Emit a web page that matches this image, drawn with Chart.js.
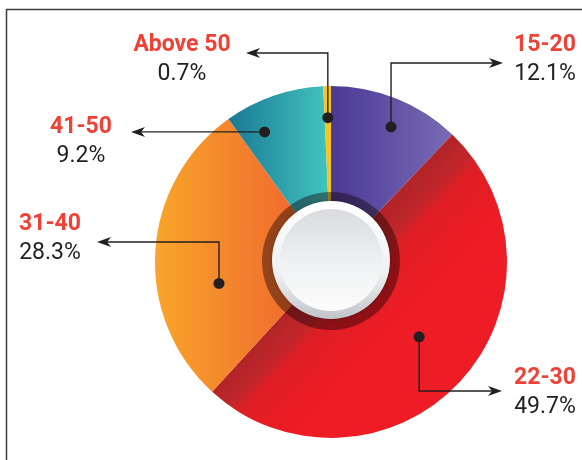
<!DOCTYPE html>
<html>
<head>
<meta charset="utf-8">
<script src="https://cdn.jsdelivr.net/npm/chart.js@4.4.1/dist/chart.umd.min.js"></script>
<style>
  html, body { margin: 0; padding: 0; background: #fff; }
  #wrap { width: 582px; height: 460px; position: relative; }
</style>
</head>
<body>
<div id="wrap"><canvas id="ageChart" width="582" height="460"></canvas></div>
<script>
// data
var ageGroups = ['15-20', '22-30', '31-40', '41-50', 'Above 50'];
var shares = [12.1, 49.7, 28.3, 9.2, 0.7];
var shareLabels = ['12.1%', '49.7%', '28.3%', '9.2%', '0.7%'];

// slice colours (gradient start / end)
var sliceFrom = ['#4a3a95', '#b32428', '#f8a52a', '#1a7a94', '#f7c51c'];
var sliceTo   = ['#7b6db6', '#ed1c24', '#f06a2e', '#41c2bf', '#f7c51c'];

// callouts: where the dot sits in the slice, elbow / arrow tip, text centre
var callouts = [
  { frac: 0.55, r: 0.84, elbowY: 63,  tipX: 503, tx: 545, ty: 45 },
  { frac: 0.485, r: 0.657, elbowY: 391, tipX: 502, tx: 545, ty: 378 },
  { frac: 0.36, r: 0.648, elbowY: 242, tipX: 97,  tx: 50,  ty: 224 },
  { frac: 0.26, r: 0.83, elbowY: null, tipX: 131, tx: 81,  ty: 127 },
  { frac: 0.5,  r: 0.82, elbowY: 53,  tipX: 246, tx: 182, ty: 45 }
];

var ink = '#231f20';
var labelRed = '#ef4136';

function sliceFill(context) {
  var chart = context.chart;
  var area = chart.chartArea;
  var i = context.dataIndex;
  if (!area) return sliceTo[i];
  var g = chart.ctx;
  var cx = (area.left + area.right) / 2;
  var cy = (area.top + area.bottom) / 2;
  var R = Math.min(area.right - area.left, area.bottom - area.top) / 2;
  var grad;
  if (i === 1) {
    // shading band along the diagonal seam
    var a = (shares[0] / 100) * 2 * Math.PI;
    var dx = Math.cos(a), dy = Math.sin(a);
    grad = g.createLinearGradient(cx, cy, cx + dx * 90, cy + dy * 90);
    grad.addColorStop(0, '#b02427');
    grad.addColorStop(0.3, '#c2262a');
    grad.addColorStop(0.42, '#df1e25');
    grad.addColorStop(1, '#ee1c24');
    return grad;
  }
  if (i === 0) grad = g.createLinearGradient(cx, 0, cx + R * 0.72, 0);
  else if (i === 2) grad = g.createLinearGradient(cx - R, 0, cx - R * 0.2, 0);
  else if (i === 3) grad = g.createLinearGradient(cx - R * 0.58, 0, cx - 4, 0);
  else return sliceTo[i];
  grad.addColorStop(0, sliceFrom[i]);
  grad.addColorStop(1, sliceTo[i]);
  return grad;
}

function arrowHead(g, x, y, dir) {
  g.beginPath();
  g.moveTo(x, y);
  g.lineTo(x - dir * 14, y - 5);
  g.lineTo(x - dir * 10, y);
  g.lineTo(x - dir * 14, y + 5);
  g.closePath();
  g.fill();
}

var framePlugin = {
  id: 'frame',
  beforeDraw: function(chart) {
    var g = chart.ctx;
    g.save();
    g.strokeStyle = '#3c3c3c';
    g.lineWidth = 1.5;
    g.beginPath();
    g.moveTo(6.5, 460);
    g.lineTo(6.5, 9.5);
    g.lineTo(582, 9.5);
    g.stroke();
    g.restore();
  }
};

var hubPlugin = {
  id: 'hub',
  afterDatasetsDraw: function(chart) {
    var g = chart.ctx;
    var arc = chart.getDatasetMeta(0).data[0];
    var cx = arc.x, cy = arc.y;
    g.save();
    // dark translucent ring
    g.beginPath();
    g.arc(cx, cy - 1, 69, 0, Math.PI * 2);
    g.fillStyle = 'rgba(20,0,0,0.42)';
    g.fill();
    // button rim
    g.shadowColor = 'rgba(0,0,0,0.3)';
    g.shadowBlur = 3;
    var rim = g.createLinearGradient(0, cy - 60, 0, cy + 60);
    rim.addColorStop(0, '#ffffff');
    rim.addColorStop(0.6, '#eef0f2');
    rim.addColorStop(1, '#bec1c7');
    g.beginPath();
    g.arc(cx, cy - 2, 59, 0, Math.PI * 2);
    g.fillStyle = rim;
    g.fill();
    g.shadowBlur = 0;
    // button face
    var face = g.createLinearGradient(0, cy - 52, 0, cy + 50);
    face.addColorStop(0, '#dadbde');
    face.addColorStop(0.55, '#f1f2f3');
    face.addColorStop(1, '#fcfcfc');
    g.beginPath();
    g.arc(cx, cy - 2, 51, 0, Math.PI * 2);
    g.fillStyle = face;
    g.fill();
    g.restore();
  }
};

var calloutPlugin = {
  id: 'callouts',
  afterDraw: function(chart) {
    var g = chart.ctx;
    var arcs = chart.getDatasetMeta(0).data;
    g.save();
    g.strokeStyle = ink;
    g.fillStyle = ink;
    g.lineWidth = 1.4;
    arcs.forEach(function(arc, i) {
      var c = callouts[i];
      var ang = arc.startAngle + c.frac * (arc.endAngle - arc.startAngle);
      var px = arc.x + Math.cos(ang) * arc.outerRadius * c.r;
      var py = arc.y + Math.sin(ang) * arc.outerRadius * c.r;
      var ey = c.elbowY === null ? py : c.elbowY;
      var dir = c.tipX > px ? 1 : -1;
      g.beginPath();
      g.moveTo(px, py);
      g.lineTo(px, ey);
      g.lineTo(c.tipX - dir * 10, ey);
      g.stroke();
      arrowHead(g, c.tipX, ey, dir);
      g.beginPath();
      g.arc(px, py, 5.5, 0, Math.PI * 2);
      g.fill();

      g.textAlign = 'center';
      g.textBaseline = 'middle';
      g.fillStyle = labelRed;
      g.font = 'bold 23px Roboto, "DejaVu Sans", sans-serif';
      g.fillText(ageGroups[i], c.tx, c.ty);
      g.fillStyle = ink;
      g.font = '400 23px Roboto, "DejaVu Sans", sans-serif';
      g.fillText(shareLabels[i], c.tx, c.ty + 29);
    });
    g.restore();
  }
};

var ctx = document.getElementById('ageChart').getContext('2d');
var ageChart = new Chart(ctx, {
  type: 'pie',
  data: {
    labels: ageGroups,
    datasets: [{
      data: shares,
      backgroundColor: sliceFill,
      borderWidth: 0,
      hoverOffset: 0,
      offset: 0
    }]
  },
  options: {
    responsive: false,
    animation: false,
    events: [],
    layout: { padding: { top: 86, bottom: 22, left: 155, right: 75 } },
    plugins: {
      legend: { display: false },
      tooltip: { enabled: false }
    }
  },
  plugins: [framePlugin, hubPlugin, calloutPlugin]
});
</script>
</body>
</html>
